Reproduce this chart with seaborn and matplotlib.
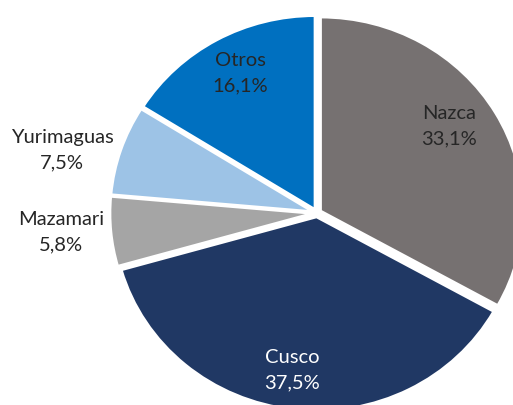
import matplotlib
matplotlib.use("Agg")
import matplotlib.pyplot as plt
import seaborn as sns
import numpy as np

categories = ["Nazca", "Cusco", "Mazamari", "Yurimaguas", "Otros"]
shares = [33.1, 37.5, 5.8, 7.5, 16.1]

colors = ["#767171", "#203864", "#A5A5A5", "#9DC3E6", "#0070C0"]
text_colors = ["#262626", "#FFFFFF", "#262626", "#262626", "#262626"]
label_dist = [0.793, 0.813, 1.264, 1.299, 0.820]
label_angle_shift = [4.5, -2.0, -1.2, 3.8, -1.45]

sns.set_theme(style="white")
plt.rcParams["font.family"] = ["Lato", "DejaVu Sans"]

fig = plt.figure(figsize=(5.13, 4.06), dpi=100)
ax = fig.add_axes([0, 0, 1, 1])
wedges, _ = ax.pie(
    shares,
    colors=colors,
    startangle=90,
    counterclock=False,
    explode=[0.02] * len(shares),
    wedgeprops=dict(edgecolor="white", linewidth=2),
)

cx, cy, sx, sy = 317, 214, 203, 194
ax.set_aspect("auto")
ax.set_xlim(-cx / sx, (513 - cx) / sx)
ax.set_ylim(-(406 - cy) / sy, cy / sy)
ax.axis("off")

for w, name, val, tc, d, da in zip(wedges, categories, shares, text_colors,
                                   label_dist, label_angle_shift):
    ang = np.deg2rad((w.theta1 + w.theta2) / 2 + da)
    x = d * np.cos(ang)
    y = d * np.sin(ang)
    txt = f"{name}\n{val:.1f}%".replace(".", ",")
    ax.text(x, y, txt, ha="center", va="center", color=tc, fontsize=14.5,
            linespacing=1.6)

fig.savefig("out.png", dpi=100)
